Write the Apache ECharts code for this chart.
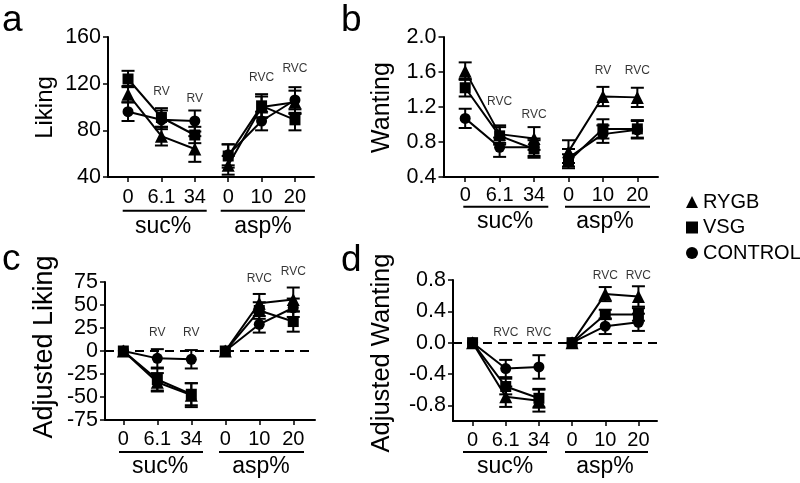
<!DOCTYPE html>
<html>
<head>
<meta charset="utf-8">
<script src="https://cdn.jsdelivr.net/npm/echarts@6/dist/echarts.min.js"></script>
<style>html,body{margin:0;padding:0;background:#fff}#c{width:800px;height:483px}</style>
</head>
<body>
<div id="c"></div>
<script>
// ---------- DATA ----------
const tickLabels = ['0', '6.1', '34', '0', '10', '20'];
const groups = ['RYGB', 'VSG', 'CONTROL'];

const likingRYGB = [111, 75, 64, 50, 100, 104];
const likingVSG = [124, 91, 76, 58, 101, 89];
const likingCONTROL = [96, 89, 88, 59, 88, 106];
const likingErrRYGB = [7, 8, 11, 8, 9, 10];
const likingErrVSG = [7, 8, 7, 10, 10, 9];
const likingErrCONTROL = [8, 8, 9, 9, 8, 11];

const wantingRYGB = [1.61, 0.89, 0.84, 0.69, 1.32, 1.31];
const wantingVSG = [1.42, 0.87, 0.72, 0.58, 0.95, 0.95];
const wantingCONTROL = [1.07, 0.74, 0.74, 0.62, 0.89, 0.94];
const wantingErrRYGB = [0.1, 0.1, 0.13, 0.13, 0.11, 0.11];
const wantingErrVSG = [0.1, 0.1, 0.1, 0.08, 0.11, 0.1];
const wantingErrCONTROL = [0.11, 0.11, 0.1, 0.1, 0.1, 0.1];

const adjLikingRYGB = [0, -34, -48, 0, 52, 56];
const adjLikingVSG = [0, -31, -47, 0, 44, 32];
const adjLikingCONTROL = [0, -8, -9, 0, 29, 47];
const adjLikingErrRYGB = [0, 10, 13, 0, 10, 13];
const adjLikingErrVSG = [0, 12, 12, 0, 9, 11];
const adjLikingErrCONTROL = [0, 10, 10, 0, 9, 10];

const adjWantingRYGB = [0, -0.69, -0.74, 0, 0.62, 0.59];
const adjWantingVSG = [0, -0.56, -0.71, 0, 0.36, 0.36];
const adjWantingCONTROL = [0, -0.33, -0.31, 0, 0.21, 0.26];
const adjWantingErrRYGB = [0, 0.13, 0.14, 0, 0.09, 0.13];
const adjWantingErrVSG = [0, 0.1, 0.12, 0, 0.06, 0.08];
const adjWantingErrCONTROL = [0, 0.11, 0.15, 0, 0.1, 0.11];

const annotA = [[1, 113, 'RV'], [2, 107, 'RV'], [4, 125, 'RVC'], [5, 133, 'RVC']];
const annotB = [[1, 1.26, 'RVC'], [2, 1.11, 'RVC'], [4, 1.62, 'RV'], [5, 1.62, 'RVC']];
const annotC = [[1, 19.6, 'RV'], [2, 19.6, 'RV'], [4, 79, 'RVC'], [5, 86, 'RVC']];
const annotD = [[1, 0.13, 'RVC'], [2, 0.13, 'RVC'], [4, 0.85, 'RVC'], [5, 0.85, 'RVC']];

// ---------- LAYOUT / STYLE ----------
const FONT = 'Liberation Sans, Arial, Helvetica, sans-serif';
const symbols = { RYGB: 'triangle', VSG: 'rect', CONTROL: 'circle' };
const symSize = { RYGB: 13, VSG: 11, CONTROL: 11 };

const panels = [
  { title: 'Liking', titleSize: 24, titleX: 45, titleY: 107.5,
    grid: { left: 108, top: 37, width: 206, height: 140 },
    x: { min: -0.6, max: 5.57 }, y: { min: 40, max: 160, interval: 40, dec: 0 }, labelMargin: 10,
    vals: [likingRYGB, likingVSG, likingCONTROL], errs: [likingErrRYGB, likingErrVSG, likingErrCONTROL],
    annot: annotA, zero: false },
  { title: 'Wanting', titleSize: 25, titleX: 382, titleY: 107.5,
    grid: { left: 443.5, top: 37, width: 214.5, height: 140 },
    x: { min: -0.63, max: 5.6 }, y: { min: 0.4, max: 2.0, interval: 0.4, dec: 1 }, labelMargin: 8,
    vals: [wantingRYGB, wantingVSG, wantingCONTROL], errs: [wantingErrRYGB, wantingErrVSG, wantingErrCONTROL],
    annot: annotB, zero: false },
  { title: 'Adjusted Liking', titleSize: 27, titleX: 45, titleY: 347,
    grid: { left: 105, top: 282, width: 210, height: 138 },
    x: { min: -0.54, max: 5.64 }, y: { min: -75, max: 75, interval: 25, dec: 0 }, labelMargin: 9,
    vals: [adjLikingRYGB, adjLikingVSG, adjLikingCONTROL], errs: [adjLikingErrRYGB, adjLikingErrVSG, adjLikingErrCONTROL],
    annot: annotC, zero: true },
  { title: 'Adjusted Wanting', titleSize: 25.5, titleX: 382, titleY: 353,
    grid: { left: 453, top: 280, width: 204, height: 141 },
    x: { min: -0.59, max: 5.56 }, y: { min: -1.0, max: 0.8, interval: 0.2, dec: 1, custom: [-0.8, -0.4, 0, 0.4, 0.8] }, labelMargin: 9,
    vals: [adjWantingRYGB, adjWantingVSG, adjWantingCONTROL], errs: [adjWantingErrRYGB, adjWantingErrVSG, adjWantingErrCONTROL],
    annot: annotD, zero: true }
];

const grids = [], xAxes = [], yAxes = [], series = [];
const tickIdx = tickLabels.map((_, i) => i);

panels.forEach((p, pi) => {
  grids.push(Object.assign({}, p.grid));
  xAxes.push({
    type: 'value', gridIndex: pi, min: p.x.min, max: p.x.max, interval: 1,
    splitLine: { show: false },
    axisLine: { onZero: false, lineStyle: { color: '#000', width: 2 } },
    axisTick: { customValues: tickIdx, length: 5, lineStyle: { color: '#000', width: 1.5 } },
    axisLabel: { customValues: tickIdx, color: '#000', fontFamily: FONT, fontSize: 20, margin: p.labelMargin,
      formatter: v => tickLabels[Math.round(v)] }
  });
  const ya = {
    type: 'value', gridIndex: pi, min: p.y.min, max: p.y.max, interval: p.y.interval,
    splitLine: { show: false },
    axisLine: { show: true, onZero: false, lineStyle: { color: '#000', width: 2 } },
    axisTick: { show: true, length: 5, lineStyle: { color: '#000', width: 1.5 } },
    axisLabel: { color: '#000', fontFamily: FONT, fontSize: 21.5, margin: 7,
      formatter: v => (Math.abs(v) < 1e-9 ? 0 : v).toFixed(p.y.dec) }
  };
  if (p.y.custom) { ya.axisTick.customValues = p.y.custom; ya.axisLabel.customValues = p.y.custom; }
  yAxes.push(ya);

  groups.forEach((g, gi) => {
    const v = p.vals[gi], e = p.errs[gi];
    // error bars
    series.push({
      type: 'custom', name: g + '_err' + pi, xAxisIndex: pi, yAxisIndex: pi, z: 2,
      data: v.map((val, i) => [i, val, e[i]]),
      encode: { x: 0, y: 1 },
      renderItem: (params, api) => {
        const x = api.value(0), y = api.value(1), er = api.value(2);
        if (!er) return { type: 'group', children: [] };
        const t = api.coord([x, y + er]), b = api.coord([x, y - er]);
        const w = 6.5, st = { stroke: '#000', lineWidth: 2 };
        return { type: 'group', children: [
          { type: 'line', shape: { x1: t[0], y1: t[1], x2: b[0], y2: b[1] }, style: st },
          { type: 'line', shape: { x1: t[0] - w, y1: t[1], x2: t[0] + w, y2: t[1] }, style: st },
          { type: 'line', shape: { x1: b[0] - w, y1: b[1], x2: b[0] + w, y2: b[1] }, style: st }
        ] };
      }
    });
    // two segments (suc, asp)
    [[0, 1, 2], [3, 4, 5]].forEach((seg, si) => {
      const s = {
        type: 'line', name: g, xAxisIndex: pi, yAxisIndex: pi, z: 3,
        data: seg.map(i => [i, v[i]]),
        symbol: symbols[g], symbolSize: symSize[g], showSymbol: true,
        color: '#000', itemStyle: { color: '#000' },
        lineStyle: { color: '#000', width: 2 }, clip: false, animation: false
      };
      if (p.zero && gi === 0 && si === 0) {
        s.markLine = { silent: true, symbol: 'none', label: { show: false },
          lineStyle: { color: '#000', type: [9, 6], width: 2 }, data: [{ yAxis: 0 }] };
      }
      series.push(s);
    });
  });
  // annotations
  series.push({
    type: 'scatter', name: 'annot' + pi, xAxisIndex: pi, yAxisIndex: pi, clip: false,
    symbolSize: 0, data: p.annot, z: 5,
    label: { show: true, position: 'inside', formatter: q => q.data[2], color: '#000', fontFamily: FONT, fontSize: 12 }
  });
});

// decorations: panel letters, axis titles, group underlines, group labels
const gfx = [];
const letters = [['a', 2, 21], ['b', 341, 21], ['c', 2, 260], ['d', 341, 261]];
letters.forEach(([t, x, y]) => gfx.push({ type: 'text', x, y, style: { text: t, fontSize: 37, fontFamily: FONT, fill: '#000', align: 'left', verticalAlign: 'middle' } }));
panels.forEach(p => gfx.push({ type: 'text', x: p.titleX, y: p.titleY, rotation: Math.PI / 2,
  style: { text: p.title, fontSize: p.titleSize, fontFamily: FONT, fill: '#000', align: 'center', verticalAlign: 'middle' } }));
const underlines = [
  [122.7, 206.7, 210.7], [220.7, 305, 210.7],
  [463.3, 548.3, 206.7], [565, 650, 206.7],
  [119, 203, 452], [219, 304, 452],
  [463, 547, 452], [565, 648, 452]
];
underlines.forEach(([x1, x2, y]) => gfx.push({ type: 'line', shape: { x1, y1: y, x2, y2: y }, style: { stroke: '#000', lineWidth: 2 } }));
const groupLabels = [
  ['suc%', 163, 227], ['asp%', 263, 227],
  ['suc%', 505, 222], ['asp%', 605, 222],
  ['suc%', 160, 467], ['asp%', 261, 467],
  ['suc%', 505, 467], ['asp%', 605, 467]
];
groupLabels.forEach(([t, x, y]) => gfx.push({ type: 'text', x, y, style: { text: t, fontSize: 23, fontFamily: FONT, fill: '#000', align: 'center', verticalAlign: 'middle' } }));

const chart = echarts.init(document.getElementById('c'), null, { renderer: 'canvas' });
chart.setOption({
  animation: false,
  backgroundColor: '#fff',
  grid: grids, xAxis: xAxes, yAxis: yAxes, series,
  legend: {
    orient: 'vertical', left: 681, top: 187, itemGap: 5.5, itemWidth: 12, itemHeight: 12, selectedMode: false,
    textStyle: { color: '#000', fontFamily: FONT, fontSize: 20, lineHeight: 20 },
    data: [{ name: 'RYGB', icon: 'triangle' }, { name: 'VSG', icon: 'rect' }, { name: 'CONTROL', icon: 'circle' }]
  },
  graphic: gfx
});
</script>
</body>
</html>
